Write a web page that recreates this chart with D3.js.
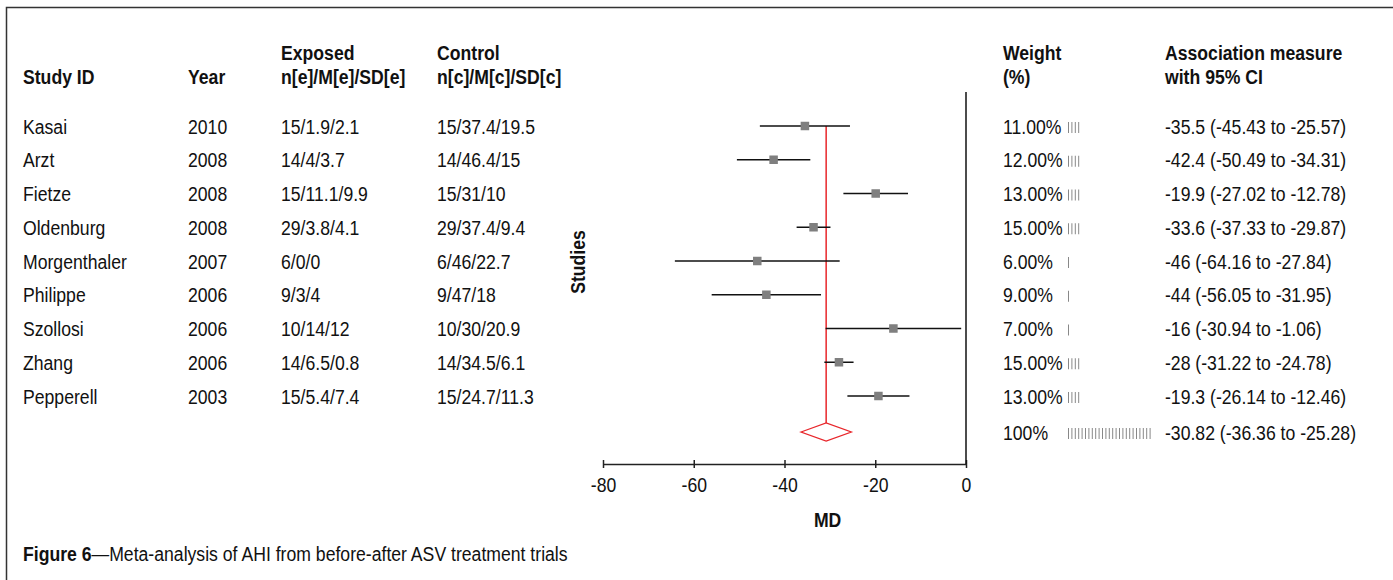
<!DOCTYPE html>
<html>
<head>
<meta charset="utf-8">
<script src="https://cdn.jsdelivr.net/npm/d3@7"></script>
<style>
  body { margin:0; background:#fff; }
  text { font-family: "Liberation Sans", Arial, sans-serif; fill:#111; }
</style>
</head>
<body>
<div id="chart"></div>
<script>
const studies  = ["Kasai","Arzt","Fietze","Oldenburg","Morgenthaler","Philippe","Szollosi","Zhang","Pepperell"]
const years    = [2010,2008,2008,2008,2007,2006,2006,2006,2003]
const exposed  = ["15/1.9/2.1","14/4/3.7","15/11.1/9.9","29/3.8/4.1","6/0/0","9/3/4","10/14/12","14/6.5/0.8","15/5.4/7.4"]
const control  = ["15/37.4/19.5","14/46.4/15","15/31/10","29/37.4/9.4","6/46/22.7","9/47/18","10/30/20.9","14/34.5/6.1","15/24.7/11.3"]
const md       = [-35.5,-42.4,-19.9,-33.6,-46,-44,-16,-28,-19.3]
const lower    = [-45.43,-50.49,-27.02,-37.33,-64.16,-56.05,-30.94,-31.22,-26.14]
const upper    = [-25.57,-34.31,-12.78,-29.87,-27.84,-31.95,-1.06,-24.78,-12.46]
const weights  = [11,12,13,15,6,9,7,15,13]
const barCount = [4,4,4,4,1,1,1,4,4]
const pooled   = {md:-30.82, lo:-36.36, hi:-25.28, weight:100, bars:25}
const xTicks   = [-80,-60,-40,-20,0]

const W = 1393, H = 580
const svg = d3.select("#chart").append("svg")
  .attr("width", W).attr("height", H)

// frame (top + left)
svg.append("path")
  .attr("d", "M6.5,580 L6.5,7.5 L1393,7.5")
  .attr("fill","none").attr("stroke","#333").attr("stroke-width",1.5)

const x = d3.scaleLinear().domain([-80,0]).range([603,966])
const y = d3.scaleLinear().domain([0, studies.length-1]).range([126, 396])
const yPooled = 432
const axisY = 464
const fs = 21
const narrow = 0.84

// narrow text helper (original uses a condensed face)
function txt(g, tx, ty, s, anchor) {
  return g.append("text")
    .attr("transform", "translate(" + tx + "," + ty + ") scale(" + narrow + ",1)")
    .attr("text-anchor", anchor || "start")
    .style("font-size", fs + "px")
    .text(s)
}

const cols = {id:23, year:188, exp:281, ctl:437, w:1003, bar:1068, am:1165}

// headers
const hdr = svg.append("g").style("font-weight","bold")
const headers = [
  [cols.id, ["", "Study ID"]],
  [cols.year, ["", "Year"]],
  [cols.exp, ["Exposed", "n[e]/M[e]/SD[e]"]],
  [cols.ctl, ["Control", "n[c]/M[c]/SD[c]"]],
  [cols.w, ["Weight", "(%)"]],
  [cols.am, ["Association measure", "with 95% CI"]]
]
headers.forEach(([hx, lines]) => {
  lines.forEach((t, i) => { if (t) txt(hdr, hx, 60 + i*24, t) })
})

// rows
const rows = svg.append("g")
studies.forEach((s, i) => {
  const yy = y(i) + 7.5
  txt(rows, cols.id, yy, s)
  txt(rows, cols.year, yy, years[i])
  txt(rows, cols.exp, yy, exposed[i])
  txt(rows, cols.ctl, yy, control[i])
  txt(rows, cols.w, yy, weights[i].toFixed(2) + "%")
  txt(rows, cols.am, yy, md[i] + " (" + lower[i].toFixed(2) + " to " + upper[i].toFixed(2) + ")")
})
txt(rows, cols.w, yPooled + 7.5, pooled.weight + "%")
txt(rows, cols.am, yPooled + 7.5,
  pooled.md.toFixed(2) + " (" + pooled.lo.toFixed(2) + " to " + pooled.hi.toFixed(2) + ")")

// weight bars
function drawBars(n, cy) {
  svg.append("g").selectAll("line")
    .data(d3.range(n))
    .enter()
    .append("line")
    .attr("x1", d => cols.bar + 0.5 + d*3.4)
    .attr("x2", d => cols.bar + 0.5 + d*3.4)
    .attr("y1", cy - 5)
    .attr("y2", cy + 6)
    .attr("stroke", "#888")
    .attr("stroke-width", 1)
}
barCount.forEach((n, i) => drawBars(n, y(i) + 1))
drawBars(pooled.bars, yPooled + 1)

// x axis
const ax = svg.append("g")
  .attr("transform", "translate(0," + axisY + ")")
  .call(d3.axisBottom(x).tickValues(xTicks).tickSize(4).tickSizeOuter(0).tickFormat(d => String(d)))
ax.select(".domain").attr("stroke","#222").attr("stroke-width",1.5)
ax.selectAll(".tick line").attr("y1",-4).attr("y2",4).attr("stroke","#222").attr("stroke-width",1.5)
ax.selectAll(".tick text")
  .attr("y", 0).attr("dy", null)
  .attr("transform", "translate(0,28) scale(" + narrow + ",1)")
  .style("font-size", fs+"px")
  .style("font-family", '"Liberation Sans", Arial, sans-serif')
  .attr("fill","#111")

txt(svg, x(-30.5), 527, "MD", "middle").style("font-weight","bold")

// line of no effect
svg.append("line")
  .attr("x1", x(0)).attr("x2", x(0))
  .attr("y1", 92).attr("y2", axisY)
  .attr("stroke","#111").attr("stroke-width",1.5)

// pooled estimate line
svg.append("line")
  .attr("x1", x(pooled.md)).attr("x2", x(pooled.md))
  .attr("y1", y(0)).attr("y2", yPooled - 9)
  .attr("stroke","#e8262b").attr("stroke-width",1.5)

// CI lines
svg.append("g").selectAll("line")
  .data(md)
  .enter()
  .append("line")
  .attr("x1", (d,i) => x(lower[i]))
  .attr("x2", (d,i) => x(upper[i]))
  .attr("y1", (d,i) => y(i))
  .attr("y2", (d,i) => y(i))
  .attr("stroke","#111").attr("stroke-width",1.5)

// squares
const sq = 8.5
svg.append("g").selectAll("rect")
  .data(md)
  .enter()
  .append("rect")
  .attr("x", d => x(d) - sq/2)
  .attr("y", (d,i) => y(i) - sq/2)
  .attr("width", sq).attr("height", sq)
  .attr("fill","#7f7f7f")

// diamond
svg.append("path")
  .attr("d", "M" + x(pooled.lo) + "," + yPooled +
             " L" + x(pooled.md) + "," + (yPooled - 9) +
             " L" + x(pooled.hi) + "," + yPooled +
             " L" + x(pooled.md) + "," + (yPooled + 9) + "Z")
  .attr("fill","none").attr("stroke","#e8262b").attr("stroke-width",1.3)

// y label
svg.append("text")
  .attr("transform", "translate(585,262) rotate(-90) scale(" + narrow + ",1)")
  .attr("text-anchor","middle")
  .style("font-weight","bold").style("font-size", fs+"px")
  .text("Studies")

// caption
const cap = txt(svg, 23, 561, "")
cap.append("tspan").style("font-weight","bold").text("Figure 6")
cap.append("tspan").text("\u2014Meta-analysis of AHI from before-after ASV treatment trials")
</script>
</body>
</html>
